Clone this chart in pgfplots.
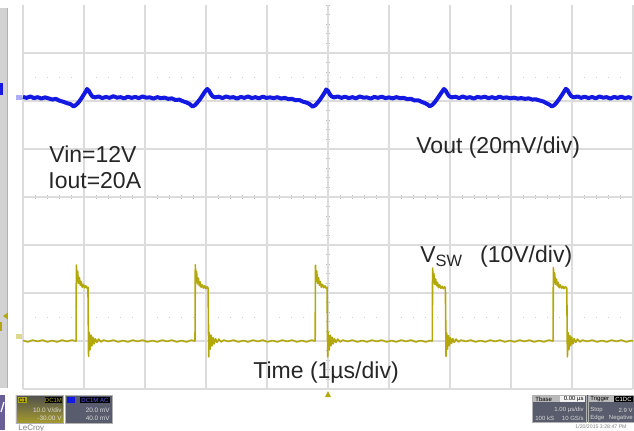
\documentclass[border=0pt]{standalone}
\usepackage{fontspec}
\setmainfont{Liberation Sans}
\usepackage{pgfplots}
\pgfplotsset{compat=1.18}
\definecolor{gridc}{RGB}{220,220,220}
\definecolor{vblue}{RGB}{20,25,225}
\definecolor{vyel}{RGB}{178,168,12}
\definecolor{txt}{RGB}{38,38,38}
\definecolor{pdark}{RGB}{88,92,108}
\definecolor{ptop}{RGB}{80,80,80}
\definecolor{pbot}{RGB}{165,155,45}
\definecolor{ppurp}{RGB}{105,95,150}
\begin{document}
\begin{tikzpicture}
\path[use as bounding box] (0,0) rectangle (317pt,215pt);
\begin{scope}[x=0.5pt,y=-0.5pt,shift={(0pt,215pt)}]
  % left bar
  \fill[gray!35] (0,8) rectangle (7,388);
  \draw[gray!60,line width=0.4pt] (7,8) -- (7,388);
  \fill[vblue] (0,83) rectangle (2.5,95);
  \fill[vyel] (3,316) -- (8,312.5) -- (8,319.5) -- cycle;
  \fill[vyel] (0,322) rectangle (2,331);
  % trace start markers
  \fill[vblue!35] (16,95) rectangle (22,99.5);
  \fill[vyel!45] (16,334) rectangle (22,338.5);
  % centre tick marks and dotted rows
  \foreach \i in {0,...,50} {
    \draw[gray!50,line width=0.5pt] ({23+12.2*\i},195) -- ({23+12.2*\i},199);
    \fill[gray!40] ({22.5+12.2*\i},76.5) rectangle ++(1.2,1.2);
    \fill[gray!40] ({22.5+12.2*\i},316.5) rectangle ++(1.2,1.2);
  }
  \foreach \j in {0,...,40} {
    \draw[gray!50,line width=0.5pt] (326,{5+9.6*\j}) -- (330,{5+9.6*\j});
  }
  % trigger marker
  \fill[vyel] (325,397) -- (331,397) -- (328,391) -- cycle;
  % bottom-left panels
  \fill[ppurp] (0,395) rectangle (5,430);
  \draw[white,line width=0.6pt] (1,412) -- (4,402);
  \shade[top color=ptop, bottom color=pbot] (16,395) rectangle (63,423);
  \draw[gray!60,line width=0.4pt] (16,395) rectangle (63,423);
  \fill[vyel] (18,397) rectangle (27,403);
  \node[inner sep=0,font=\fontsize{3}{3.4}\selectfont] at (22.5,400) {C1};
  \fill[black] (45,397) rectangle (62,403);
  \node[inner sep=0,text=vyel,font=\fontsize{3}{3.4}\selectfont] at (53.5,400) {DC1M};
  \node[inner sep=0,anchor=east,text=white!85!black,font=\fontsize{3.2}{3.6}\selectfont] at (62,410) {10.0 V/div};
  \node[inner sep=0,anchor=east,text=white!85!black,font=\fontsize{3.2}{3.6}\selectfont] at (62,418) {-30.00 V};
  \fill[pdark] (65,395) rectangle (112,423);
  \draw[gray!60,line width=0.4pt] (65,395) rectangle (112,423);
  \fill[vblue] (67,397) rectangle (75,403);
  \fill[black] (80,397) rectangle (110,403);
  \node[inner sep=0,text=vblue!70!white,font=\fontsize{3}{3.4}\selectfont] at (95,400) {DC1M AC};
  \node[inner sep=0,anchor=east,text=white!85!black,font=\fontsize{3.2}{3.6}\selectfont] at (110,410) {20.0 mV};
  \node[inner sep=0,anchor=east,text=white!85!black,font=\fontsize{3.2}{3.6}\selectfont] at (110,418) {40.0 mV};
  \node[inner sep=0,anchor=north west,text=gray,font=\fontsize{4}{4.5}\selectfont] at (18,424.5) {LeCroy};
  % bottom-right panel
  \fill[pdark] (532,395) rectangle (634,422);
  \draw[gray!60,line width=0.4pt] (532,395) rectangle (586,422);
  \draw[gray!60,line width=0.4pt] (588,395) rectangle (634,422);
  \fill[gray!55] (533,396) rectangle (585,402);
  \fill[white!90!gray] (560,396) rectangle (585,402);
  \fill[gray!55] (589,396) rectangle (633,402);
  \fill[black] (614,396) rectangle (633,402);
  \begin{scope}[every node/.style={inner sep=0,font=\fontsize{3}{3.4}\selectfont}]
    \node[anchor=west] at (535,399) {Tbase};
    \node[anchor=east] at (584,399) {0.00 \textmu s};
    \node[anchor=west] at (590,399) {Trigger};
    \node[anchor=east,text=white] at (632,399) {C1DC};
    \node[anchor=east,text=white!85!black] at (584,410) {1.00 \textmu s/div};
    \node[anchor=west,text=white!85!black] at (535,418) {100 kS};
    \node[anchor=east,text=white!85!black] at (584,418) {10 GS/s};
    \node[anchor=west,text=white!85!black] at (590,410) {Stop};
    \node[anchor=east,text=white!85!black] at (633,410) {2.9 V};
    \node[anchor=west,text=white!85!black] at (590,418) {Edge};
    \node[anchor=east,text=white!85!black] at (633,418) {Negative};
    \node[anchor=north,text=gray,font=\fontsize{2.6}{3}\selectfont] at (601,424.5) {1/20/2015 3:28:47 PM};
  \end{scope}
\end{scope}

% Vsw axis (10 V/div)
\begin{axis}[at={(11.5pt,20.5pt)}, anchor=south west, scale only axis,
  width=305pt, height=192pt, xmin=-5, xmax=5, ymin=-10, ymax=70,
  xtick={-5,-4,...,5}, ytick={-10,0,...,60}, xticklabels={}, yticklabels={},
  major tick length=0pt, grid=major, grid style={gridc,line width=0.6pt},
  axis line style={draw=none}, clip=false]
\addplot[vyel, line width=0.8pt, line join=round] coordinates {
(-5.00,0.1) (-4.92,-0.2) (-4.84,0.2) (-4.76,-0.1) (-4.68,0.2) (-4.60,-0.2) (-4.52,0.1) (-4.44,-0.2) (-4.36,0.2) (-4.28,-0.1) (-4.20,0.2) (-4.135,0.0)
(-4.13,0.0) (-4.125,15.8) (-4.115,12.4) (-4.105,14.6) (-4.09,12.0) (-4.075,13.2) (-4.06,11.6) (-4.045,12.4) (-4.03,11.2) (-4.01,11.8) (-3.99,11.1) (-3.97,11.5) (-3.95,11.0) (-3.935,11.2) (-3.925,-3.2) (-3.915,1.8) (-3.90,-1.8) (-3.885,1.2) (-3.87,-1.0) (-3.855,0.8) (-3.835,-0.6) (-3.815,0.5) (-3.79,-0.3) (-3.76,0.4) (-3.72,-0.2) (-3.68,0.2)
(-3.60,-0.1) (-3.52,0.2) (-3.44,-0.2) (-3.36,0.1) (-3.28,-0.2) (-3.20,0.2) (-3.12,-0.1) (-3.04,0.2) (-2.96,-0.2) (-2.88,0.1) (-2.80,-0.2) (-2.72,0.2) (-2.64,-0.1) (-2.56,0.2) (-2.48,-0.2) (-2.40,0.1) (-2.32,-0.2) (-2.24,0.2) (-2.185,0.0)
(-2.18,0.0) (-2.175,15.9) (-2.165,12.3) (-2.155,14.5) (-2.14,11.9) (-2.125,13.1) (-2.11,11.5) (-2.095,12.3) (-2.08,11.2) (-2.06,11.7) (-2.04,11.0) (-2.02,11.5) (-2.00,10.9) (-1.98,11.3) (-1.965,11.0) (-1.955,-3.3) (-1.945,1.7) (-1.93,-1.7) (-1.915,1.2) (-1.90,-1.0) (-1.885,0.7) (-1.865,-0.6) (-1.845,0.5) (-1.82,-0.3) (-1.79,0.4) (-1.75,-0.2) (-1.71,0.2)
(-1.63,-0.1) (-1.55,0.2) (-1.47,-0.2) (-1.39,0.1) (-1.31,-0.2) (-1.23,0.2) (-1.15,-0.1) (-1.07,0.2) (-0.99,-0.2) (-0.91,0.1) (-0.83,-0.2) (-0.75,0.2) (-0.67,-0.1) (-0.59,0.2) (-0.51,-0.2) (-0.43,0.1) (-0.35,-0.2) (-0.27,0.2) (-0.215,0.0)
(-0.21,0.0) (-0.205,15.8) (-0.195,12.4) (-0.185,14.6) (-0.17,12.0) (-0.155,13.2) (-0.14,11.6) (-0.125,12.4) (-0.11,11.2) (-0.09,11.8) (-0.07,11.1) (-0.05,11.5) (-0.03,11.0) (-0.015,11.2) (-0.005,-3.3) (0.005,1.8) (0.02,-1.8) (0.035,1.2) (0.05,-1.0) (0.065,0.8) (0.085,-0.6) (0.105,0.5) (0.13,-0.3) (0.16,0.4) (0.20,-0.2) (0.24,0.2)
(0.32,-0.1) (0.40,0.2) (0.48,-0.2) (0.56,0.1) (0.64,-0.2) (0.72,0.2) (0.80,-0.1) (0.88,0.2) (0.96,-0.2) (1.04,0.1) (1.12,-0.2) (1.20,0.2) (1.28,-0.1) (1.36,0.2) (1.44,-0.2) (1.52,0.1) (1.60,-0.2) (1.68,0.1) (1.705,0.0)
(1.71,0.0) (1.715,15.2) (1.725,12.2) (1.735,14.1) (1.75,11.8) (1.765,12.9) (1.78,11.5) (1.795,12.2) (1.81,11.1) (1.83,11.7) (1.85,11.0) (1.87,11.4) (1.89,10.9) (1.91,11.3) (1.925,11.0) (1.935,-3.2) (1.945,1.7) (1.96,-1.7) (1.975,1.1) (1.99,-0.9) (2.005,0.7) (2.025,-0.5) (2.045,0.5) (2.07,-0.3) (2.10,0.4) (2.14,-0.2) (2.18,0.2)
(2.26,-0.1) (2.34,0.2) (2.42,-0.2) (2.50,0.1) (2.58,-0.2) (2.66,0.2) (2.74,-0.1) (2.82,0.2) (2.90,-0.2) (2.98,0.1) (3.06,-0.2) (3.14,0.2) (3.22,-0.1) (3.30,0.2) (3.38,-0.2) (3.46,0.1) (3.54,-0.2) (3.62,0.2) (3.685,0.0)
(3.69,0.0) (3.695,15.3) (3.705,12.2) (3.715,14.2) (3.73,11.8) (3.745,12.9) (3.76,11.5) (3.775,12.2) (3.79,11.1) (3.81,11.7) (3.83,11.0) (3.85,11.4) (3.87,10.9) (3.89,11.3) (3.915,11.0) (3.925,-3.3) (3.935,1.8) (3.95,-1.8) (3.965,1.2) (3.98,-1.0) (3.995,0.8) (4.015,-0.6) (4.035,0.5) (4.06,-0.3) (4.09,0.4) (4.13,-0.2) (4.17,0.2)
(4.25,-0.1) (4.33,0.2) (4.41,-0.2) (4.49,0.1) (4.57,-0.2) (4.65,0.2) (4.73,-0.1) (4.81,0.2) (4.89,-0.2) (4.97,0.1) (5.00,0.0)
};
\end{axis}

% Vout axis (20 mV/div)
\begin{axis}[at={(11.5pt,20.5pt)}, anchor=south west, scale only axis,
  width=305pt, height=192pt, xmin=-5, xmax=5, ymin=-120, ymax=40,
  hide axis, clip=false]
\addplot[vblue, line width=2.0pt, line join=round] coordinates {
(-5.00,1.7) (-4.94,1.3) (-4.88,1.9) (-4.82,1.2) (-4.76,1.6) (-4.70,1.0) (-4.64,1.5) (-4.58,1.1)
(-4.52,0.6) (-4.46,0.9) (-4.40,0.1) (-4.34,-0.3) (-4.28,-0.9) (-4.22,-1.3) (-4.17,-2.3) (-4.13,-1.6) (-4.09,-0.6) (-4.05,0.8) (-4.01,2.4) (-3.97,4.0) (-3.95,5.0) (-3.92,4.2) (-3.89,2.8) (-3.86,1.8) (-3.82,1.5)
(-3.76,1.9) (-3.70,1.2) (-3.64,1.7) (-3.58,1.3) (-3.52,2.0) (-3.46,1.4) (-3.40,1.6) (-3.34,1.1) (-3.28,1.8) (-3.22,1.3) (-3.16,1.7) (-3.10,1.2) (-3.04,1.9) (-2.98,1.4) (-2.92,1.5) (-2.86,1.0) (-2.80,1.6) (-2.74,1.2) (-2.68,1.4) (-2.62,0.9)
(-2.56,1.1) (-2.50,0.4) (-2.44,0.6) (-2.38,-0.1) (-2.32,-0.6) (-2.27,-1.2) (-2.22,-2.3) (-2.18,-1.7) (-2.14,-0.6) (-2.10,0.7) (-2.06,2.2) (-2.02,3.8) (-1.98,5.0) (-1.95,4.3) (-1.92,2.9) (-1.89,1.9) (-1.85,1.5)
(-1.79,1.8) (-1.73,1.2) (-1.67,1.9) (-1.61,1.4) (-1.55,1.6) (-1.49,1.0) (-1.43,1.7) (-1.37,1.3) (-1.31,1.9) (-1.25,1.2) (-1.19,1.6) (-1.13,1.1) (-1.07,1.8) (-1.01,1.3) (-0.95,1.5) (-0.89,1.2) (-0.83,1.6) (-0.77,1.0) (-0.71,1.3) (-0.65,0.8)
(-0.59,0.9) (-0.53,0.3) (-0.47,0.4) (-0.41,-0.3) (-0.35,-0.7) (-0.30,-1.3) (-0.25,-2.4) (-0.21,-1.8) (-0.17,-0.7) (-0.13,0.6) (-0.09,2.1) (-0.05,3.7) (-0.03,4.8) (0.00,4.2) (0.03,2.8) (0.06,1.9) (0.10,1.5)
(0.16,1.9) (0.22,1.3) (0.28,1.8) (0.34,1.2) (0.40,1.6) (0.46,1.1) (0.52,1.9) (0.58,1.4) (0.64,1.5) (0.70,1.0) (0.76,1.7) (0.82,1.3) (0.88,1.8) (0.94,1.2) (1.00,1.5) (1.06,1.1) (1.12,1.6) (1.18,1.2) (1.24,1.3)
(1.30,0.8) (1.36,0.9) (1.42,0.2) (1.48,0.3) (1.54,-0.4) (1.59,-0.9) (1.63,-1.4) (1.67,-2.2) (1.71,-1.6) (1.75,-0.5) (1.79,0.9) (1.83,2.4) (1.87,3.9) (1.90,5.0) (1.93,4.3) (1.96,2.9) (1.99,1.9) (2.03,1.5)
(2.09,1.8) (2.15,1.2) (2.21,1.9) (2.27,1.3) (2.33,1.6) (2.39,1.0) (2.45,1.7) (2.51,1.4) (2.57,1.8) (2.63,1.2) (2.69,1.6) (2.75,1.1) (2.81,1.8) (2.87,1.3) (2.93,1.5) (2.99,1.1) (3.05,1.4) (3.11,1.0) (3.17,1.2)
(3.23,0.9) (3.29,1.1) (3.35,0.6) (3.41,0.7) (3.47,0.2) (3.53,-0.2) (3.58,-0.9) (3.63,-1.5) (3.67,-2.3) (3.71,-1.7) (3.75,-0.6) (3.79,0.8) (3.83,2.3) (3.87,3.9) (3.90,5.1) (3.93,4.4) (3.96,3.0) (3.99,2.0) (4.03,1.5)
(4.09,1.9) (4.15,1.3) (4.21,1.8) (4.27,1.2) (4.33,1.7) (4.39,1.1) (4.45,1.9) (4.51,1.4) (4.57,1.6) (4.63,1.0) (4.69,1.7) (4.75,1.3) (4.81,1.8) (4.87,1.2) (4.93,1.6) (4.98,1.1)
};
\end{axis}

% annotations
\begin{scope}[x=0.5pt,y=-0.5pt,shift={(0pt,215pt)},
  every node/.style={inner sep=0pt,anchor=base west,text=txt,font=\fontsize{11.5}{13.5}\selectfont}]
  \node at (49,162) {Vin=12V};
  \node at (48,188.3) {Iout=20A};
  \node at (416,153) {Vout (20mV/div)};
  \node at (420,262) {V\raisebox{-2pt}{\fontsize{8.2}{9}\selectfont SW}\hspace{9pt}(10V/div)};
  \node at (253,378) {Time (1\textmu s/div)};
\end{scope}
\end{tikzpicture}
\end{document}
